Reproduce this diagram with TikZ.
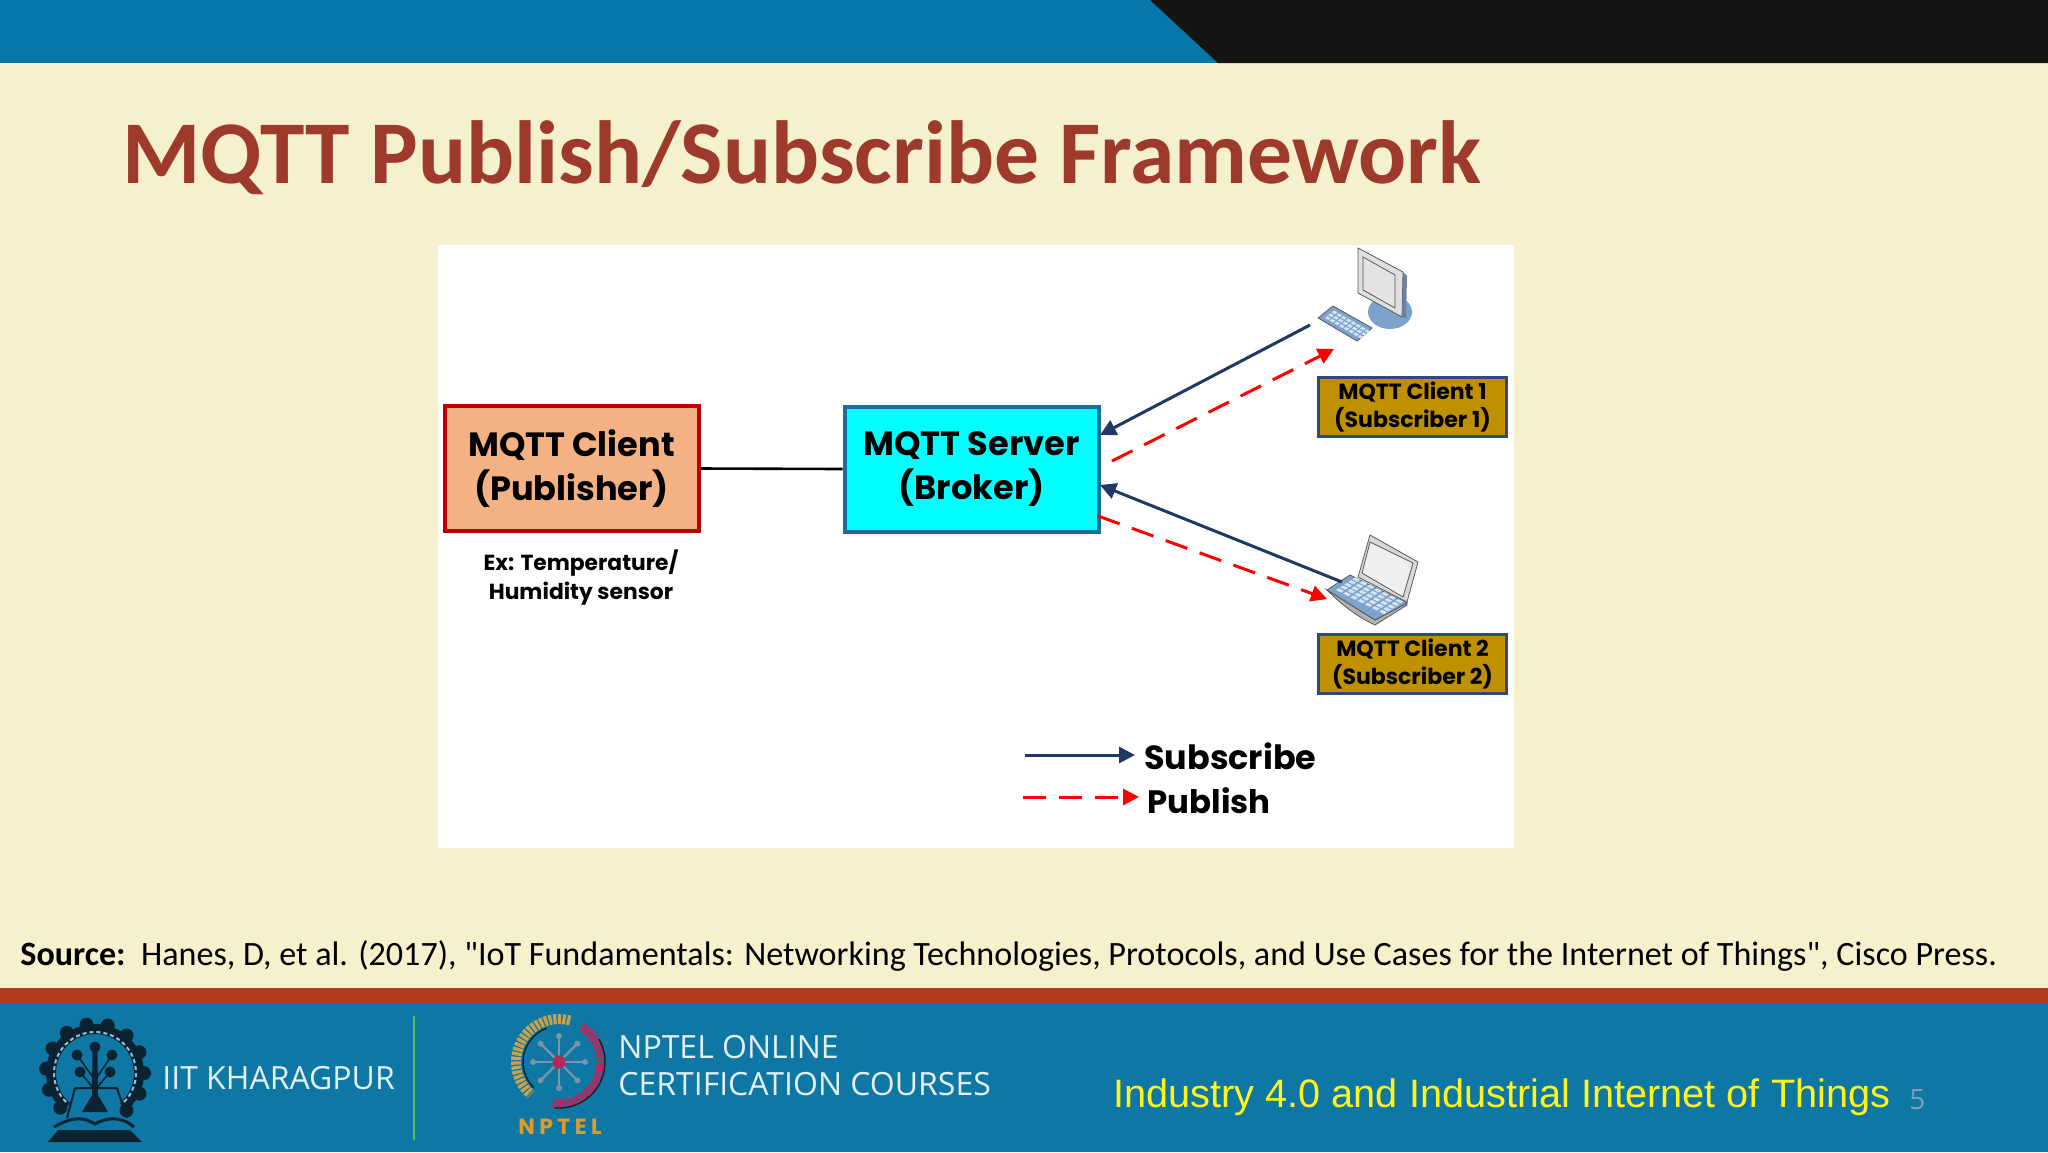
\documentclass[tikz,border=0pt]{standalone}
\usepackage{fontspec}
\setmainfont{Carlito}
\newfontfamily\srcf{Carlito}
\newfontfamily\gothic{Poppins}[BoldFont={* Bold}]
\newfontfamily\arialf{Liberation Sans}
\newfontfamily\lightf{Open Sans}
\usetikzlibrary{arrows.meta}
\definecolor{pagebg}{HTML}{F5F1CD}
\definecolor{topblue}{HTML}{0577A8}
\definecolor{footblue}{HTML}{0F77A4}
\definecolor{band}{HTML}{B23A18}
\definecolor{titlecol}{HTML}{9E3A2C}
\definecolor{subcol}{HTML}{1F3864}
\definecolor{pubcol}{HTML}{FF0000}
\definecolor{pubfill}{HTML}{F4B183}
\definecolor{pubedge}{HTML}{C00000}
\definecolor{srvfill}{HTML}{00FFFF}
\definecolor{srvedge}{HTML}{1B6E9C}
\definecolor{clientfill}{HTML}{BF9000}
\definecolor{navy}{HTML}{2F4A78}
\definecolor{dkemblem}{HTML}{0B2232}
\definecolor{iconblue}{HTML}{7DA3CC}
\definecolor{keyblue}{HTML}{D5E4F2}
\definecolor{spoke}{HTML}{7C93A8}
\definecolor{goldarc}{HTML}{C9A24A}
\definecolor{crimson}{HTML}{B5285A}
\definecolor{nptelorange}{HTML}{DE9A2C}
\definecolor{pagenum}{HTML}{7F9FB5}
\tikzset{
  mainbox/.style={draw,line width=2pt,minimum width=127pt,minimum height=62.5pt,inner sep=0pt,align=center,
    font=\gothic\fontsize{16.8}{22}\selectfont\bfseries,text=black},
  clientbox/.style={draw=navy,fill=clientfill,line width=1.6pt,minimum width=94pt,minimum height=29.5pt,inner sep=0pt,align=center,
    font=\gothic\fontsize{11}{14}\selectfont\bfseries,text=black},
  subarrow/.style={draw=subcol,line width=1.5pt,-{Triangle[length=8pt,width=8pt]}},
  pubarrow/.style={draw=pubcol,line width=1.5pt,dash pattern=on 11.5pt off 6.5pt,-{Triangle[length=8pt,width=8pt,fill=pubcol]}},
  labeltext/.style={inner sep=0pt,text=black,align=center},
  foottext/.style={inner sep=0pt,anchor=west,text=white!88!footblue,font=\lightf\fontsize{16}{18}\selectfont},
  iconedge/.style={draw=gray!70!black,line width=0.4pt},
}
\begin{document}
\begin{tikzpicture}[x=0.5pt,y=-0.5pt]
\useasboundingbox (0,0) rectangle (2048,1152);
% page
\fill[pagebg] (0,0) rectangle (2048,1152);
\fill[topblue] (0,0) rectangle (2048,63);
\fill[black!92] (1150,0) -- (1218,63) -- (2048,63) -- (2048,0) -- cycle;
\fill[band] (0,988) rectangle (2048,1004);
\fill[footblue] (0,1004) rectangle (2048,1152);
% title
\node[anchor=base west,inner sep=0pt,text=titlecol,font=\fontsize{44.8}{50}\selectfont\bfseries] (title) at (122,183) {MQTT Publish/Subscribe Framework};
% image panel
\fill[white] (438,245) rectangle (1514,848);
% main nodes
\node[mainbox,draw=pubedge,fill=pubfill] (pub) at (571.5,468.5) {MQTT Client\\(Publisher)};
\node[mainbox,draw=srvedge,fill=srvfill] (srv) at (971.5,469) {MQTT Server\\(Broker)};
\node[clientbox] (c1) at (1412.5,407) {MQTT Client 1\\(Subscriber 1)};
\node[clientbox] (c2) at (1412.5,664) {MQTT Client 2\\(Subscriber 2)};
\node[labeltext,font=\gothic\fontsize{10.9}{14.5}\selectfont\bfseries] (ex) at (581,578) {Ex: Temperature/\\Humidity sensor};
% desktop icon
\fill[iconblue] (1390,312) ellipse (22 and 17);
\filldraw[iconedge,fill=gray!25] (1358,248) -- (1403,272) -- (1402,317) -- (1358,293) -- cycle;
\fill[navy!70] (1403,272) -- (1407,276) -- (1406,318) -- (1402,317) -- cycle;
\filldraw[iconedge,fill=blue!6!gray!20] (1363,257) -- (1395,275) -- (1395,308) -- (1363,290) -- cycle;
\filldraw[iconedge,fill=iconblue] (1318,318) -- (1333,306) -- (1372,328) -- (1357,341) -- cycle;
\foreach \i in {0,...,7}{\foreach \j in {0,1,2}{
  \fill[keyblue] ({1325+\i*4.7+\j*3.4},{318+\i*2.7-\j*2.8}) -- ++(3.4,1.9) -- ++(2.2,-1.9) -- ++(-3.4,-1.9) -- cycle;}}
% laptop icon
\filldraw[iconedge,fill=gray!30] (1370,535) -- (1418,562) -- (1407,602) -- (1358,577) -- cycle;
\filldraw[iconedge,fill=blue!5!gray!12] (1370,542) -- (1413,563) -- (1403,597) -- (1362,573) -- cycle;
\filldraw[iconedge,fill=gray!60] (1327,590) .. controls (1345,608) and (1360,618) .. (1375,625) -- (1407,605) -- (1407,603) -- (1375,620) -- cycle;
\filldraw[iconedge,fill=iconblue] (1327,590) -- (1350,575) -- (1407,603) -- (1375,620) -- cycle;
\foreach \i in {0,...,6}{\foreach \j in {0,...,4}{
  \fill[keyblue] ({1336+\i*7.2+\j*4.1},{590+\i*3.6-\j*2.7}) -- ++(5,2.5) -- ++(2.8,-1.8) -- ++(-5,-2.5) -- cycle;}}
% connector ends
\coordinate (d1s) at (1310,325);
\coordinate (d1p) at (1334,349);
\coordinate (l1s) at (1342,582);
\coordinate (l1p) at (1327,599);
\coordinate (srvA) at (1100,435);
\coordinate (srvB) at (1112,461);
\coordinate (srvC) at (1100,485);
\coordinate (srvD) at (1098,516);
% connectors
\draw[black,line width=1.3pt] (pub.east) -- (srv.west);
\draw[subarrow] (d1s) -- (srvA);
\draw[pubarrow] (srvB) -- (d1p);
\draw[subarrow] (l1s) -- (srvC);
\draw[pubarrow] (srvD) -- (l1p);
% legend
\coordinate (lsa) at (1025,755);
\coordinate (lsb) at (1135,755);
\coordinate (lpa) at (1023,797);
\coordinate (lpb) at (1139,797);
\draw[subarrow] (lsa) -- (lsb);
\draw[pubarrow] (lpa) -- (lpb);
\node[labeltext,anchor=west,font=\gothic\fontsize{16.7}{20}\selectfont\bfseries] (lsub) at (1144,756) {Subscribe};
\node[labeltext,anchor=west,font=\gothic\fontsize{16.2}{20}\selectfont\bfseries] (lpubl) at (1147,801) {Publish};
% source
\node[anchor=base west,inner sep=0pt,text=black,font=\srcf\fontsize{17.05}{18}\selectfont] (src) at (20,965)
  {\textbf{Source:}\ \ Hanes, D, et al. (2017), "IoT Fundamentals: Networking Technologies, Protocols, and Use Cases for the Internet of Things", Cisco Press.};
% emblem
\foreach \a in {135,160,...,410}{
  \fill[dkemblem] ({95+49*cos(\a)},{1073+49*sin(\a)}) circle (7);}
\draw[dkemblem,line width=5pt] (95,1073) ++(130:44) arc (130:410:44);
\draw[white!55!footblue,line width=1pt,dash pattern=on 2pt off 1.5pt] (95,1073) ++(135:41) arc (135:405:41);
\foreach \p/\q in {95/1047,77/1055,112/1055,80/1072,110/1072}{
  \fill[dkemblem] (\p,\q) circle (5.5);}
\draw[dkemblem,line width=0.8pt] (95,1080) -- (77,1055) (95,1080) -- (112,1055) (95,1090) -- (80,1072) (95,1090) -- (110,1072);
\fill[dkemblem] (92.5,1047) -- (97.5,1047) -- (98,1095) -- (108,1112) -- (82,1112) -- (92,1095) -- cycle;
\draw[dkemblem,line width=1pt] (75,1088) -- (67,1118) (117,1088) -- (127,1118) (75,1088) -- (117,1088);
\draw[dkemblem,line width=1.5pt] (54,1127) .. controls (75,1115) and (85,1118) .. (95,1124) .. controls (105,1118) and (120,1115) .. (134,1127);
\fill[dkemblem] (58,1130) -- (130,1130) -- (142,1142) -- (48,1142) -- cycle;
\node[foottext] (iit) at (162,1078) {IIT KHARAGPUR};
\draw[green!45!gray!90,line width=1.2pt] (414,1016) -- (414,1140);
% nptel logo
\draw[goldarc,line width=5pt,dash pattern=on 1.6pt off 0.7pt] (559,1062) ++(-75:43) arc (-75:-229:43);
\draw[dkemblem,line width=0.7pt] (559,1062) ++(-110:36) arc (-110:-225:36);
\draw[crimson,line width=4.5pt,dash pattern=on 1.8pt off 0.6pt] (559,1062) ++(-57:42) arc (-57:100:42);
\draw[dkemblem,line width=0.7pt] (559,1062) ++(-30:46) arc (-30:95:46);
\foreach \a in {0,45,...,315}{
  \draw[spoke,line width=1.2pt] (559,1062) -- ++(\a:24);
  \fill[spoke] (559,1062) ++(\a:26) circle (3);}
\fill[crimson] (559,1062) circle (6.5);
\node[inner sep=0pt,text=nptelorange,font=\gothic\fontsize{11}{12}\selectfont\bfseries\addfontfeature{LetterSpace=20}] (nlogo) at (560,1127) {NPTEL};
\node[foottext] (n1) at (618,1047) {NPTEL ONLINE};
\node[foottext] (n2) at (618,1084) {CERTIFICATION COURSES};
% course
\node[anchor=west,inner sep=0pt,text=yellow!90!white,font=\arialf\fontsize{19.85}{22}\selectfont] (course) at (1113,1097) {Industry 4.0 and Industrial Internet of Things};
\node[anchor=west,inner sep=0pt,text=pagenum,font=\lightf\fontsize{14}{16}\selectfont] (pg) at (1909,1100) {5};
\end{tikzpicture}
\end{document}
